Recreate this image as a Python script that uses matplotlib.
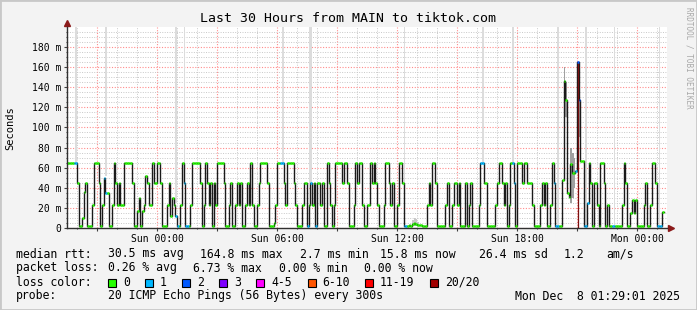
import numpy as np
import matplotlib.pyplot as plt
from matplotlib.patches import Rectangle

# median rtt per 5-minute step (ms), start Sat 19:29:01
rtt = [
    65, 65, 65, 65, 65, 65, 45, 2.7, 2.7, 10, 36, 45, 2.7, 2.7, 2.7, 23, 65, 65, 65, 45,
    2.7, 23, 50, 35, 35, 2.7, 2.7, 23, 65, 45, 23, 45, 23, 23, 65, 65, 65, 65, 65, 45,
    2.7, 2.7, 17, 30, 2.7, 17, 23, 52, 45, 23, 23, 65, 45, 45, 65, 65, 45, 2.7, 2.7, 2.7,
    23, 45, 12, 30, 23, 12, 2.7, 2.7, 23, 65, 45, 2.7, 2.7, 2.7, 23, 65, 65, 65, 65, 65,
    45, 2.7, 23, 65, 45, 23, 45, 2.7, 45, 23, 65, 65, 65, 65, 45, 2.7, 2.7, 23, 45, 2.7,
    2.7, 23, 45, 23, 45, 2.7, 2.7, 23, 45, 23, 65, 23, 2.7, 2.7, 23, 45, 65, 65, 65, 65,
    45, 2.7, 2.7, 2.7, 5, 23, 65, 65, 65, 65, 45, 23, 65, 65, 65, 65, 45, 23, 2.7, 2.7,
    2.7, 23, 45, 45, 2.7, 23, 45, 23, 45, 2.7, 45, 45, 23, 45, 2.7, 2.7, 65, 45, 23, 2.7,
    23, 65, 65, 65, 65, 45, 65, 65, 45, 2.7, 2.7, 2.7, 23, 65, 45, 65, 65, 23, 2.7, 2.7,
    23, 23, 65, 45, 65, 45, 23, 2.7, 2.7, 2.7, 23, 65, 65, 45, 23, 45, 2.7, 2.7, 23, 65,
    65, 45, 2.7, 2.7, 2.7, 3, 2.7, 4, 5, 4, 3, 3, 3, 2.7, 2.7, 2.7, 23, 45, 23, 65,
    65, 45, 2.7, 2.7, 2.7, 2.7, 2.7, 23, 45, 2.7, 2.7, 23, 45, 45, 23, 45, 2.7, 2.7, 2.7, 45,
    2.7, 23, 45, 2.7, 2.7, 2.7, 2.7, 23, 65, 65, 45, 45, 2.7, 2.7, 2.7, 2.7, 2.7, 23, 45, 65,
    65, 45, 23, 45, 2.7, 23, 65, 65, 45, 2.7, 65, 65, 65, 45, 65, 65, 45, 45, 45, 23,
    2.7, 2.7, 2.7, 2.7, 23, 45, 23, 45, 2.7, 2.7, 23, 65, 45, 2.7, 2.7, 2.7, 2.7, 48, 146, 127,
    35, 31, 64, 55, 55, 57, 164.8, 127, 67, 67, 2.7, 2.7, 25, 65, 45, 2.7, 45, 45, 23, 2.7,
    65, 65, 45, 2.7, 23, 2.7, 2.7, 2.7, 2.7, 2.7, 2.7, 2.7, 2.7, 23, 65, 45, 2.7, 2.7, 15, 28,
    15, 28, 2.7, 2.7, 2.7, 2.7, 23, 45, 2.7, 2.7, 23, 65, 65, 45, 2.7, 2.7, 2.7, 15.8,
]
loss1_steps = [4, 5, 22, 23, 65, 66, 70, 71, 72, 128, 129, 144, 146, 149, 202, 203,
               248, 249, 267, 268, 292, 293, 294, 305, 310, 311, 312, 327, 328, 354, 355, 356]
loss2_steps = [306, 307]

# smoke: step, low, high, shade
smoke_steps = [5, 23, 65, 70, 129, 145, 146, 202, 249, 267, 294, 311, 328, 355,
               207, 208, 209, 210, 298, 299, 302, 303, 304, 307]
smoke_lo = [65, 52, 25, 45, 65, 45, 45, 2.7, 65, 65, 2.7, 2.7, 2.7, 2.7,
            2.7, 2.7, 2.7, 2.7, 140, 110, 25, 30, 40, 90]
smoke_hi = [200, 200, 200, 200, 200, 200, 200, 200, 200, 200, 200, 200, 200, 200,
            8, 10, 9, 6, 160, 145, 80, 75, 70, 135]
smoke_shade = ['#dcdcdc'] * 14 + ['#c8c8c8'] * 4 + ['#a0a0a0'] * 6

loss_labels = ['0', '1', '2', '3', '4-5', '6-10', '11-19', '20/20']
loss_colors = ['#26ff00', '#00b8ff', '#0059ff', '#7e00ff', '#ff00ff', '#ff5500', '#ff0000', '#a10000']

x_labels = ['Sun 00:00', 'Sun 06:00', 'Sun 12:00', 'Sun 18:00', 'Mon 00:00']

stats_rtt = ['30.5 ms avg', '164.8 ms max', '2.7 ms min', '15.8 ms now', '26.4 ms sd', '1.2', 'am/s']
stats_rtt_x = [107.6, 200, 300, 380, 479, 563.6, 606.7]
stats_loss = ['0.26 % avg', '6.73 % max', '0.00 % min', '0.00 % now']
stats_loss_x = [107.6, 193, 279, 364.4]
box_x = [108, 145, 182, 219, 256, 307.6, 365, 430]

W, H = 697, 310
mono = 'DejaVu Sans Mono'
plt.rcParams['font.family'] = mono

fig = plt.figure(figsize=(W / 100, H / 100), dpi=100, facecolor='#f3f3f3')
ax = fig.add_axes([67 / W, (H - 228.3) / H, 600 / W, 201.8 / H])
ax.set_facecolor('white')

dt = 5 / 60
n = len(rtt)
t = np.arange(n) * dt
vals = np.array(rtt)

# smoke
for s, lo, hi, c in zip(smoke_steps, smoke_lo, smoke_hi, smoke_shade):
    ax.bar(t[s], hi - lo, bottom=lo, width=dt, align='edge', color=c, lw=0, zorder=2)

# median line
ax.step(np.append(t, t[-1] + dt), np.append(vals, vals[-1]), where='post',
        color='#1a1a1a', lw=1.0, zorder=3)
imax = int(np.argmax(vals))
ax.vlines(t[imax] + dt * 0.5, 0, vals[imax], color='#7a1010', lw=0.9, zorder=3)

cols = [loss_colors[0]] * n
for s in loss1_steps:
    cols[s] = loss_colors[1]
for s in loss2_steps:
    cols[s] = loss_colors[2]
ax.hlines(vals, t, t + dt, colors=cols, lw=1.8, zorder=4)

# axes / grid
ax.set_xlim(0, 30)
ax.set_ylim(0, 200)
t_sun = 4 + 31 / 60 - 1 / 3600
major_x = [t_sun - 3 + 3 * k for k in range(10)]
minor_x = [t_sun - 4 + k for k in range(30) if 0 < t_sun - 4 + k < 30]
ax.set_xticks(major_x)
ax.set_xticklabels([x_labels[k // 2] if k % 2 == 1 else '' for k in range(10)], fontsize=7)
ax.set_xticks(minor_x, minor=True)
ax.set_yticks(np.arange(0, 181, 20))
ax.set_yticklabels(['0'] + ['%d m' % v for v in range(20, 181, 20)], fontsize=7)
ax.set_yticks(np.arange(0, 200, 5), minor=True)
ax.tick_params(which='both', direction='out', length=2, width=0.8, color='#404040', pad=2)
ax.tick_params(which='minor', length=1)

ax.grid(which='minor', color='#c8c8c8', ls=(0, (1, 1.5)), lw=0.7)
ax.grid(which='major', color='#ff8c8c', ls=(0, (1, 1.5)), lw=0.8)
ax.set_axisbelow(True)
for side in ['top', 'right']:
    ax.spines[side].set_visible(False)
for side in ['left', 'bottom']:
    ax.spines[side].set_color('#303030')
    ax.spines[side].set_linewidth(1)
    ax.spines[side].set_zorder(5)
ax.plot(0, 1.015, marker='^', color='#8b1a1a', ms=4, transform=ax.transAxes, clip_on=False)
ax.plot(1.007, 0, marker='>', color='#8b1a1a', ms=4, transform=ax.transAxes, clip_on=False)

# texts
def ftext(x, y, s, **kw):
    fig.text(x / W, 1 - y / H, s, va='center', **kw)

ftext(348, 19, 'Last 30 Hours from MAIN to tiktok.com', ha='center', fontsize=9.5)
ftext(10, 128, 'Seconds', ha='center', rotation=90, fontsize=7.5)
ftext(689, 58, 'RRDTOOL / TOBI OETIKER', ha='center', rotation=270, fontsize=5.5, color='#a8a8a8')

fs = 8.3
ftext(16, 254, 'median rtt:', fontsize=fs)
for s, x in zip(stats_rtt, stats_rtt_x):
    ftext(x, 254, s, fontsize=fs)
ftext(16, 268, 'packet loss:', fontsize=fs)
for s, x in zip(stats_loss, stats_loss_x):
    ftext(x, 268, s, fontsize=fs)
ftext(16, 282, 'loss color:', fontsize=fs)
for lab, c, x in zip(loss_labels, loss_colors, box_x):
    fig.patches.append(Rectangle((x / W, 1 - 286.5 / H), 8 / W, 8 / H, facecolor=c,
                                 edgecolor='black', lw=0.8, transform=fig.transFigure))
    ftext(x + 15, 282, lab, fontsize=fs)
ftext(16, 296, 'probe:', fontsize=fs)
ftext(107.6, 296, '20 ICMP Echo Pings (56 Bytes) every 300s', fontsize=fs)
ftext(680, 296, 'Mon Dec  8 01:29:01 2025', ha='right', fontsize=fs)

fig.patches.append(Rectangle((0, 0), 1, 1, fill=False, edgecolor='#c8c8c8', lw=2,
                             transform=fig.transFigure))

fig.savefig('out.png', dpi=100, facecolor=fig.get_facecolor())
